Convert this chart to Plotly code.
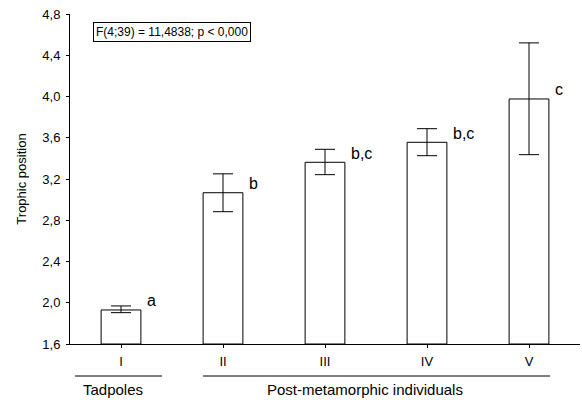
import plotly.graph_objects as go

categories = ["I", "II", "III", "IV", "V"]
means = [1.93, 3.067, 3.362, 3.556, 3.976]
upper = [1.969, 3.25, 3.488, 3.688, 4.52]
lower = [1.904, 2.883, 3.242, 3.426, 3.436]
letters = ["a", "b", "b,c", "b,c", "c"]
y_ticks = [1.6, 2.0, 2.4, 2.8, 3.2, 3.6, 4.0, 4.4, 4.8]
y_tick_labels = ["1,6", "2,0", "2,4", "2,8", "3,2", "3,6", "4,0", "4,4", "4,8"]
groups = ["Tadpoles", "Post-metamorphic individuals"]

FONT = "Liberation Sans, Arial, sans-serif"
xs = list(range(len(categories)))
err_plus = [u - m for u, m in zip(upper, means)]
err_minus = [m - l for m, l in zip(means, lower)]

fig = go.Figure()
fig.add_trace(go.Bar(
    x=xs, y=[m - 1.6 for m in means], base=1.6, width=0.39,
    marker=dict(color="white", line=dict(color="black", width=1)),
    error_y=dict(type="data", symmetric=False, array=err_plus, arrayminus=err_minus,
                 color="black", thickness=1, width=10),
    showlegend=False, hoverinfo="skip",
))

annotations = []
for i, (m, t) in enumerate(zip(means, letters)):
    annotations.append(dict(x=i + 0.24, y=m, xref="x", yref="y", text=t, showarrow=False,
                            xanchor="left", yanchor="middle", yshift=9,
                            font=dict(size=16, color="black", family=FONT)))

annotations.append(dict(x=0.045, y=0.945, xref="paper", yref="paper",
                        text="F(4;39) = 11,4838; p < 0,000", showarrow=False,
                        xanchor="left", yanchor="middle", bordercolor="black", borderwidth=1,
                        borderpad=2, font=dict(size=12, color="black", family=FONT)))
annotations.append(dict(x=-0.08, y=-0.139, xref="x", yref="paper", text=groups[0], showarrow=False,
                        yanchor="middle", font=dict(size=15, color="black", family=FONT)))
annotations.append(dict(x=2.39, y=-0.139, xref="x", yref="paper", text=groups[1], showarrow=False,
                        yanchor="middle", font=dict(size=15, color="black", family=FONT)))

shapes = [
    dict(type="line", xref="x", yref="paper", x0=-0.451, x1=0.402, y0=-0.097, y1=-0.097,
         line=dict(color="black", width=1)),
    dict(type="line", xref="x", yref="paper", x0=0.804, x1=4.206, y0=-0.097, y1=-0.097,
         line=dict(color="black", width=1)),
]

fig.update_layout(
    width=582, height=400,
    margin=dict(l=70, r=2, t=14, b=56),
    plot_bgcolor="white", paper_bgcolor="white",
    font=dict(family=FONT, size=13, color="black"),
    annotations=annotations, shapes=shapes,
    xaxis=dict(range=[-0.5, 4.5], tickvals=xs, ticktext=categories, showline=True,
               linecolor="black", linewidth=1, ticks="outside", ticklen=3, tickcolor="black",
               showgrid=False, zeroline=False, tickfont=dict(size=13), ticklabelstandoff=2),
    yaxis=dict(range=[1.6, 4.8], tickvals=y_ticks, ticktext=y_tick_labels, showline=True,
               linecolor="black", linewidth=1, ticks="outside", ticklen=3, tickcolor="black",
               showgrid=False, zeroline=False, tickfont=dict(size=13), ticklabelstandoff=3,
               title=dict(text="Trophic position", font=dict(size=13), standoff=12)),
)

fig.write_html("out.html", config={"displayModeBar": False},
               post_script="document.body.style.margin='0';")
